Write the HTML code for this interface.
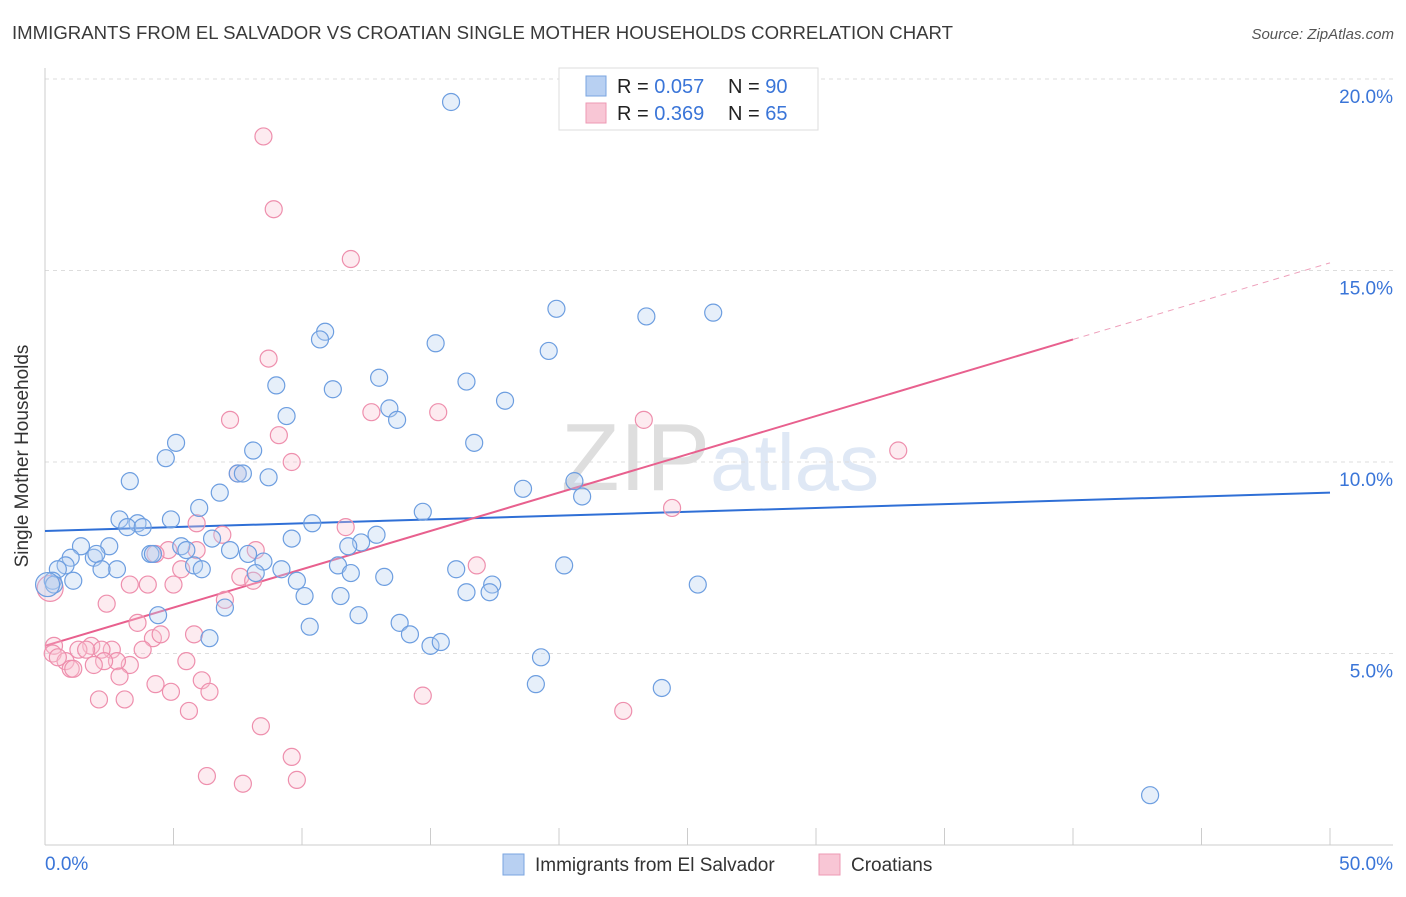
<!DOCTYPE html>
<html><head><meta charset="utf-8"><style>
body{margin:0;background:#fff;font-family:"Liberation Sans",sans-serif;}
svg text{font-family:"Liberation Sans",sans-serif;}
</style></head><body>
<svg id="chart" width="1406" height="892" xmlns="http://www.w3.org/2000/svg">
<text x="12" y="39" font-size="18" fill="#3a3a3a" textLength="941" lengthAdjust="spacingAndGlyphs">IMMIGRANTS FROM EL SALVADOR VS CROATIAN SINGLE MOTHER HOUSEHOLDS CORRELATION CHART</text>
<text x="1394" y="39" font-size="15" fill="#555" text-anchor="end" font-style="italic">Source: ZipAtlas.com</text>
<text x="720" y="490" font-size="96" fill="#e8e8e8" text-anchor="middle" font-family="Liberation Serif"><tspan fill="#dedede">ZIP</tspan><tspan fill="#dfe8f5" font-family="Liberation Sans" font-size="80">atlas</tspan></text>
<g id="grid"></g>
<g id="axes"></g>
<g id="trend"></g>
<g id="points"></g>
<text transform="translate(34,456) rotate(-90)" font-size="19" fill="#333" text-anchor="middle" x="0" dx="0" y="-6">Single Mother Households</text>
<g>
<rect x="559" y="68" width="259" height="62" fill="#fff" stroke="#ddd"/>
<rect x="586" y="76" width="20" height="20" fill="#b8d0f2" stroke="#7aa5e0"/>
<rect x="586" y="103" width="20" height="20" fill="#f8c6d5" stroke="#ee99b4"/>
<text x="617" y="93" font-size="20" fill="#222">R = <tspan fill="#3a75d8">0.057</tspan><tspan x="728">N = </tspan><tspan fill="#3a75d8">90</tspan></text>
<text x="617" y="120" font-size="20" fill="#222">R = <tspan fill="#3a75d8">0.369</tspan><tspan x="728">N = </tspan><tspan fill="#3a75d8"> 65</tspan></text>
</g>
<g>
<rect x="503" y="854" width="21" height="21" fill="#b8d0f2" stroke="#7aa5e0"/>
<text x="535" y="871" font-size="19" fill="#333">Immigrants from El Salvador</text>
<rect x="819" y="854" width="21" height="21" fill="#f8c6d5" stroke="#ee99b4"/>
<text x="851" y="871" font-size="19" fill="#333">Croatians</text>
</g>
</svg>
<script>
const blueX=[15.8,10.9,10.7,15.2,19.9,23.4,26.0,19.6,13.0,16.4,9.0,11.2,17.9,13.4,9.4,13.7,5.1,16.7,4.7,8.1,3.3,7.5,7.7,8.7,18.6,20.6,20.9,6.8,6.0,14.7,2.9,3.6,4.9,10.4,3.2,3.8,6.5,9.6,12.9,12.3,11.8,1.4,2.5,5.3,7.2,4.1,4.2,5.5,7.9,1.0,1.9,2.0,5.8,8.5,11.4,2.8,2.2,0.8,0.5,6.1,9.2,8.2,11.9,20.2,16.0,13.2,1.1,9.8,17.4,0.3,0.35,16.4,17.3,10.1,11.5,25.4,7.0,4.4,12.2,13.8,14.2,6.4,10.3,15.0,15.4,19.3,19.1,24.0,43.0,0.1];
const blueY=[19.4,13.4,13.2,13.1,14.0,13.8,13.9,12.9,12.2,12.1,12.0,11.9,11.6,11.4,11.2,11.1,10.5,10.5,10.1,10.3,9.5,9.7,9.7,9.6,9.3,9.5,9.1,9.2,8.8,8.7,8.5,8.4,8.5,8.4,8.3,8.3,8.0,8.0,8.1,7.9,7.8,7.8,7.8,7.8,7.7,7.6,7.6,7.7,7.6,7.5,7.5,7.6,7.3,7.4,7.3,7.2,7.2,7.3,7.2,7.2,7.2,7.1,7.1,7.3,7.2,7.0,6.9,6.9,6.8,6.9,6.8,6.6,6.6,6.5,6.5,6.8,6.2,6.0,6.0,5.8,5.5,5.4,5.7,5.2,5.3,4.9,4.2,4.1,1.3,6.8];
const pinkX=[8.5,8.9,11.9,8.7,7.2,15.3,12.7,23.3,9.1,9.6,33.2,7.5,24.4,5.9,6.9,11.7,4.8,5.9,8.2,4.3,5.3,16.8,7.6,8.1,3.3,4.0,5.0,7.0,2.4,3.6,2.6,4.2,4.5,5.8,0.35,1.8,1.3,2.2,1.6,3.8,0.3,0.8,0.5,5.5,3.3,2.8,2.3,1.9,1.0,1.1,2.9,4.3,6.1,4.9,6.4,14.7,2.1,3.1,5.6,22.5,8.4,9.6,6.3,7.7,9.8,0.2];
const pinkY=[18.5,16.6,15.3,12.7,11.1,11.3,11.3,11.1,10.7,10.0,10.3,9.7,8.8,8.4,8.1,8.3,7.7,7.7,7.7,7.6,7.2,7.3,7.0,6.9,6.8,6.8,6.8,6.4,6.3,5.8,5.1,5.4,5.5,5.5,5.2,5.2,5.1,5.1,5.1,5.1,5.0,4.8,4.9,4.8,4.7,4.8,4.8,4.7,4.6,4.6,4.4,4.2,4.3,4.0,4.0,3.9,3.8,3.8,3.5,3.5,3.1,2.3,1.8,1.6,1.7,6.7];
const blueTrend=[8.2,9.2];   // y at x=0, x=50
const pinkTrend=[5.2,0.2];   // intercept, slope
const yTicks=[5,10,15,20];
const xTickLabels=["0.0%","50.0%"];
const NS="http://www.w3.org/2000/svg";
const sx=v=>45+v*25.7, sy=v=>845-v*38.3;
function mk(tag,attrs,parent){const e=document.createElementNS(NS,tag);for(const k in attrs)e.setAttribute(k,attrs[k]);parent.appendChild(e);return e;}
const grid=document.getElementById('grid'),axes=document.getElementById('axes'),trend=document.getElementById('trend'),pts=document.getElementById('points');
yTicks.forEach(t=>{
  const l=mk('line',{x1:45,x2:1393,y1:sy(t),y2:sy(t),stroke:'#ddd','stroke-dasharray':'4,4'},grid);
  
  
  const tx=mk('text',{x:1393,y:sy(t)+24,'font-size':19,fill:'#3a75d8','text-anchor':'end'},grid);
  tx.textContent=t.toFixed(1)+'%';
  
  
});
const ax=mk('line',{x1:45,x2:1393,y1:845,y2:845,stroke:'#ccc'},axes);


const ay=mk('line',{x1:45,x2:45,y1:68,y2:845,stroke:'#ccc'},axes);


for(let i=0;i<=10;i++){
  const tk=mk('line',{x1:sx(i*5),x2:sx(i*5),y1:828,y2:845,stroke:'#ccc'},axes);
  
  
}
const xl0=mk('text',{x:45,y:870,'font-size':19,fill:'#3a75d8'},axes);xl0.textContent=xTickLabels[0];


const xl1=mk('text',{x:1393,y:870,'font-size':19,fill:'#3a75d8','text-anchor':'end'},axes);xl1.textContent=xTickLabels[1];


function dot(x,y,fill,stroke,name,r){
  const c=mk('circle',{cx:sx(x),cy:sy(y),r:r||8.5,fill:fill,'fill-opacity':0.35,stroke:stroke,'stroke-width':1.2},pts);
  
  
}
pinkX.forEach((x,i)=>dot(x,pinkY[i],'#f8c6d5','#ee8fad','croatians-point',i===pinkX.length-1?13:8.5));
blueX.forEach((x,i)=>dot(x,blueY[i],'#b8d0f2','#6d9ee0','el-salvador-point',i===blueX.length-1?12:8.5));
const bt=mk('line',{x1:sx(0),y1:sy(blueTrend[0]),x2:sx(50),y2:sy(blueTrend[1]),stroke:'#2f6fd6','stroke-width':2},trend);


const pt=mk('line',{x1:sx(0),y1:sy(pinkTrend[0]),x2:sx(40),y2:sy(pinkTrend[0]+40*pinkTrend[1]),stroke:'#e8608e','stroke-width':2},trend);


const pd=mk('line',{x1:sx(40),y1:sy(pinkTrend[0]+40*pinkTrend[1]),x2:sx(50),y2:sy(pinkTrend[0]+50*pinkTrend[1]),stroke:'#eea0bb','stroke-width':1,'stroke-dasharray':'6,5'},trend);


</script>
</body></html>
